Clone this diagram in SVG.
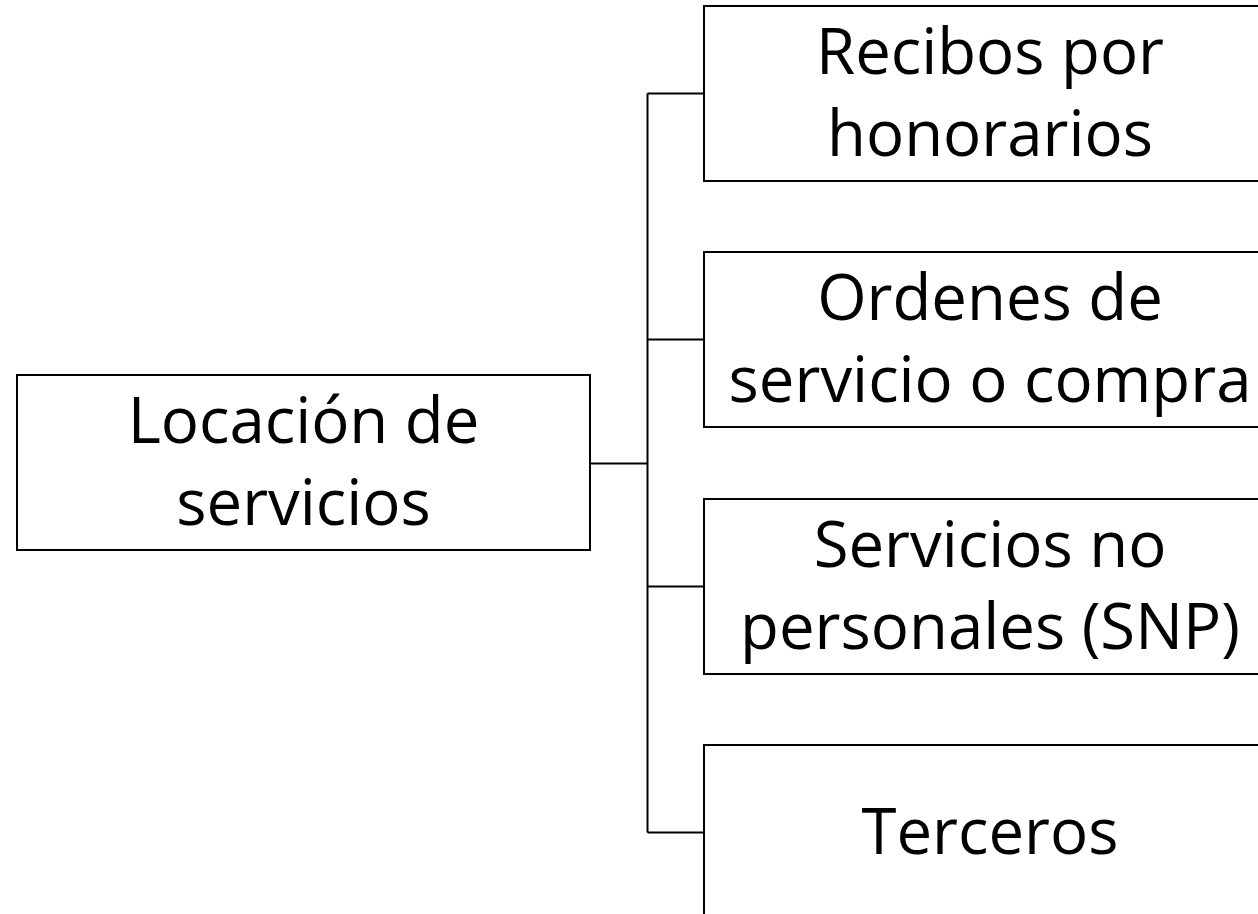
<svg xmlns="http://www.w3.org/2000/svg" width="1258" height="914" viewBox="0 0 1258 914">
  <style>
    .box { fill: #ffffff; stroke: #000000; stroke-width: 2; }
    .conn { fill: none; stroke: #000000; stroke-width: 2; }
    .lbl { font-family: "Open Sans", "Liberation Sans", sans-serif; font-size: 63.5px; fill: #000000; text-anchor: middle; }
  </style>
  <rect width="1258" height="914" fill="#ffffff"/>
  <g id="connectors">
    <path class="conn" d="M590 463.5 H647.5"/>
    <path class="conn" d="M647.5 93.5 V832.5"/>
    <path class="conn" d="M647.5 93.5 H704"/>
    <path class="conn" d="M647.5 339.5 H704"/>
    <path class="conn" d="M647.5 586.5 H704"/>
    <path class="conn" d="M647.5 832.5 H704"/>
  </g>
  <g id="node-locacion">
    <rect class="box" x="17" y="375" width="573" height="175"/>
    <text class="lbl" x="303.5" y="443">Locación de</text>
    <text class="lbl" x="303.5" y="525">servicios</text>
  </g>
  <g id="node-recibos">
    <rect class="box" x="704" y="6" width="573" height="175"/>
    <text class="lbl" x="990" y="74">Recibos por</text>
    <text class="lbl" x="990" y="156">honorarios</text>
  </g>
  <g id="node-ordenes">
    <rect class="box" x="704" y="252" width="573" height="175"/>
    <text class="lbl" x="990" y="320">Ordenes de</text>
    <text class="lbl" x="990" y="402">servicio o compra</text>
  </g>
  <g id="node-snp">
    <rect class="box" x="704" y="499" width="573" height="175"/>
    <text class="lbl" x="990" y="567">Servicios no</text>
    <text class="lbl" x="990" y="649">personales (SNP)</text>
  </g>
  <g id="node-terceros">
    <rect class="box" x="704" y="745" width="573" height="175"/>
    <text class="lbl" x="990" y="854">Terceros</text>
  </g>
</svg>
